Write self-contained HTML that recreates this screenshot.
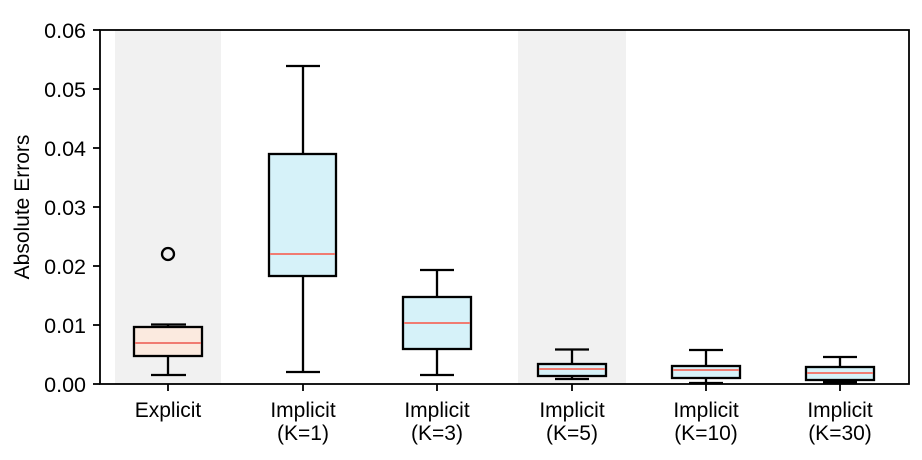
<!DOCTYPE html>
<html><head><meta charset="utf-8"><style>body{margin:0;background:#fff}svg{display:block}text{font-family:"Liberation Sans",sans-serif;fill:#000}</style></head><body>
<svg width="922" height="460" viewBox="0 0 922 460" xmlns="http://www.w3.org/2000/svg">
<rect x="115" y="30" width="106" height="354" fill="#f1f1f1"/>
<rect x="518" y="30" width="108" height="354" fill="#f1f1f1"/>
<g stroke="#000" stroke-width="2.3" fill="none">
<line x1="168" y1="375" x2="168" y2="356"/><line x1="168" y1="327" x2="168" y2="324.5"/>
<line x1="151" y1="375" x2="186" y2="375"/><line x1="151" y1="324.5" x2="186" y2="324.5"/>
<rect x="134" y="327" width="68" height="29" fill="#fbeadf"/>
<circle cx="168" cy="254" r="6"/>
<line x1="303" y1="66" x2="303" y2="154"/><line x1="303" y1="276" x2="303" y2="372"/>
<line x1="286" y1="66" x2="320" y2="66"/><line x1="286" y1="372" x2="320" y2="372"/>
<rect x="269" y="154" width="67" height="122" fill="#d6f2f9"/>
<line x1="437" y1="270" x2="437" y2="297"/><line x1="437" y1="349" x2="437" y2="375"/>
<line x1="420" y1="270" x2="454" y2="270"/><line x1="420" y1="375" x2="454" y2="375"/>
<rect x="403" y="297" width="68" height="52" fill="#d6f2f9"/>
<line x1="572" y1="349.5" x2="572" y2="364"/><line x1="572" y1="376" x2="572" y2="379"/>
<line x1="555" y1="349.5" x2="589" y2="349.5"/><line x1="555" y1="379" x2="589" y2="379"/>
<rect x="538" y="364" width="68" height="12" fill="#d6f2f9"/>
<line x1="706" y1="350" x2="706" y2="366"/><line x1="706" y1="378" x2="706" y2="383"/>
<line x1="689" y1="350" x2="723" y2="350"/><line x1="689" y1="383" x2="723" y2="383"/>
<rect x="672" y="366" width="68" height="12" fill="#d6f2f9"/>
<line x1="840" y1="357" x2="840" y2="367"/>
<line x1="823" y1="357" x2="857" y2="357"/><line x1="823" y1="382" x2="857" y2="382" stroke-width="3"/>
<rect x="806" y="367" width="68" height="13" fill="#d6f2f9"/>
</g>
<g stroke="#f07c72" stroke-width="2">
<line x1="135" y1="343" x2="201" y2="343"/>
<line x1="270" y1="254" x2="335" y2="254"/>
<line x1="404" y1="323" x2="470" y2="323"/>
<line x1="539" y1="369" x2="605" y2="369"/>
<line x1="673" y1="370" x2="739" y2="370"/>
<line x1="807" y1="373" x2="873" y2="373"/>
</g>
<rect x="100" y="30" width="809" height="354" fill="none" stroke="#000" stroke-width="1.8"/>
<g stroke="#000" stroke-width="1.8">
<line x1="93" y1="30" x2="100" y2="30"/><line x1="93" y1="89" x2="100" y2="89"/><line x1="93" y1="148" x2="100" y2="148"/><line x1="93" y1="207" x2="100" y2="207"/><line x1="93" y1="266" x2="100" y2="266"/><line x1="93" y1="325" x2="100" y2="325"/><line x1="93" y1="384" x2="100" y2="384"/>
<line x1="168" y1="384" x2="168" y2="391"/><line x1="303" y1="384" x2="303" y2="391"/><line x1="437" y1="384" x2="437" y2="391"/><line x1="572" y1="384" x2="572" y2="391"/><line x1="706" y1="384" x2="706" y2="391"/><line x1="840" y1="384" x2="840" y2="391"/>
</g>
<g font-size="21.5" text-anchor="end">
<text x="86" y="38">0.06</text><text x="86" y="97">0.05</text><text x="86" y="156">0.04</text><text x="86" y="215">0.03</text><text x="86" y="274">0.02</text><text x="86" y="333">0.01</text><text x="86" y="392">0.00</text>
</g>
<text transform="translate(29,207) rotate(-90)" font-size="21" text-anchor="middle">Absolute Errors</text>
<g font-size="21" text-anchor="middle">
<text x="168" y="417">Explicit</text>
<text x="303" y="417">Implicit</text><text x="303" y="440">(K=1)</text>
<text x="437" y="417">Implicit</text><text x="437" y="440">(K=3)</text>
<text x="572" y="417">Implicit</text><text x="572" y="440">(K=5)</text>
<text x="706" y="417">Implicit</text><text x="706" y="440">(K=10)</text>
<text x="840" y="417">Implicit</text><text x="840" y="440">(K=30)</text>
</g>
</svg>
</body></html>
